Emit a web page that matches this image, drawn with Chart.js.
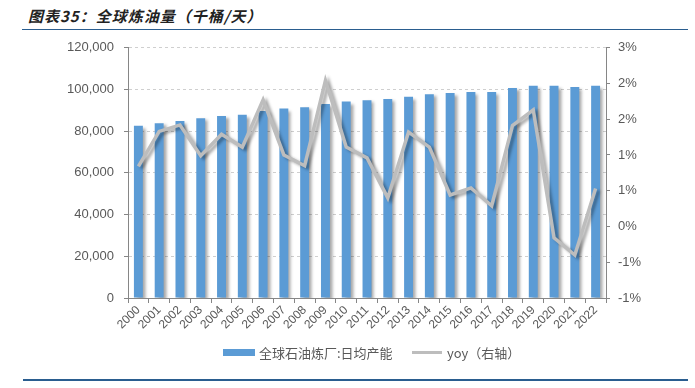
<!DOCTYPE html>
<html>
<head>
<meta charset="utf-8">
<script src="https://cdn.jsdelivr.net/npm/chart.js@4/dist/chart.umd.min.js"></script>
<style>
    body { margin: 0; background: #fff; }
    #wrap { position: relative; width: 695px; height: 388px; overflow: hidden; font-family: "Liberation Sans", "Noto Sans CJK SC", sans-serif; }
    #title { position: absolute; left: 28px; top: 5px; font-size: 15px; font-weight: bold; font-style: italic; color: #222; font-family: "Noto Sans CJK SC", sans-serif; letter-spacing: 1px; }
    #topline { position: absolute; left: 22px; right: 7px; top: 29px; height: 0; border-top: 1.5px solid #2a5d8f; }
    #bottomline { position: absolute; left: 23px; right: 7px; top: 379px; height: 0; border-top: 2px solid #2a5d8f; }
    #chartBox { position: absolute; left: 0; top: 0; width: 695px; height: 388px; }
    .legend { position: absolute; top: 343px; font-size: 13px; color: #595959; font-family: "Noto Sans CJK SC", sans-serif; display: flex; align-items: center; }
    .legend .box { display: inline-block; width: 32px; height: 7px; background: #5b9bd5; margin-right: 4px; }
    .legend .ln { display: inline-block; width: 30px; height: 3px; background: #bdbdbd; margin-right: 5px; }
</style>
</head>
<body>
<div id="wrap">
    <div id="title">图表35：全球炼油量（千桶/天）</div>
    <div id="topline"></div>
    <div id="chartBox"><canvas id="refineChart"></canvas></div>
    <div class="legend" style="left:223px;"><span class="box"></span>全球石油炼厂:日均产能</div>
    <div class="legend" style="left:412px;"><span class="ln"></span>yoy（右轴）</div>
    <div id="bottomline"></div>
</div>
<script>
// Datos
const years = ['2000', '2001', '2002', '2003', '2004', '2005', '2006', '2007', '2008', '2009', '2010', '2011',
    '2012', '2013', '2014', '2015', '2016', '2017', '2018', '2019', '2020', '2021', '2022'];
const capacity = [82600, 83800, 84900, 86200, 87300, 87800, 89700, 90800, 91500, 93000, 94200, 94800,
    95400, 96500, 97700, 98300, 98800, 98800, 100700, 101800, 101800, 101200, 101800];
const yoy = [0.84, 1.33, 1.42, 0.99, 1.29, 1.11, 1.77, 1.00, 0.85, 2.04, 1.11, 0.96,
    0.40, 1.32, 1.11, 0.44, 0.54, 0.29, 1.41, 1.63, -0.16, -0.40, 0.53];
const leftTicks = [0, 20000, 40000, 60000, 80000, 100000, 120000];

// Sombra para barras y línea
const shadowPlugin = {
    id: 'shadow',
    beforeDatasetDraw(chart) {
        const c = chart.ctx;
        c.save();
        c.shadowColor = 'rgba(0, 0, 0, 0.35)';
        c.shadowBlur = 3;
        c.shadowOffsetX = 3;
        c.shadowOffsetY = 2;
    },
    afterDatasetDraw(chart) {
        chart.ctx.restore();
    }
};

const tickFont = { family: '"Liberation Sans", sans-serif', size: 13 };

const ctx = document.getElementById('refineChart');
new Chart(ctx, {
    data: {
        labels: years,
        datasets: [
            {
                type: 'line',
                label: 'yoy（右轴）',
                data: yoy,
                yAxisID: 'y1',
                borderColor: '#bdbdbd',
                borderWidth: 3.5,
                pointRadius: 0,
                tension: 0,
                fill: false,
                order: 0
            },
            {
                type: 'bar',
                label: '全球石油炼厂:日均产能',
                data: capacity,
                yAxisID: 'y',
                backgroundColor: '#5b9bd5',
                barPercentage: 0.86,
                categoryPercentage: 0.5,
                order: 1
            }
        ]
    },
    options: {
        responsive: true,
        maintainAspectRatio: false,
        animation: false,
        layout: { padding: { top: 47.7, left: 0, right: 0, bottom: 0 } },
        plugins: {
            legend: { display: false },
            tooltip: { enabled: false }
        },
        scales: {
            x: {
                offset: true,
                grid: { display: true, drawOnChartArea: false, drawTicks: true, tickLength: 5, color: '#868686' },
                border: { color: '#868686' },
                ticks: { font: { family: '"Liberation Sans", sans-serif', size: 12 }, color: '#595959', maxRotation: 45, minRotation: 45, autoSkip: false, padding: 0 },
                afterFit(scale) { scale.height = 90; }
            },
            y: {
                position: 'left',
                min: 0,
                max: 120000,
                afterBuildTicks(scale) { scale.ticks = leftTicks.map(v => ({ value: v })); },
                grid: { color: '#cfcfcf', tickColor: '#868686', tickLength: 4 },
                border: { color: '#868686', dash: [3, 3] },
                ticks: {
                    font: tickFont,
                    color: '#595959',
                    padding: 10,
                    callback: v => v.toLocaleString('en-US')
                },
                afterFit(scale) { scale.width = 128; }
            },
            y1: {
                position: 'right',
                min: -1,
                max: 2.5,
                grid: { drawOnChartArea: false, color: '#868686', tickLength: 4 },
                border: { color: '#868686' },
                ticks: {
                    stepSize: 0.5,
                    font: tickFont,
                    color: '#595959',
                    padding: 8,
                    callback: v => (Math.sign(v) * Math.round(Math.abs(v))) + '%'
                },
                afterFit(scale) { scale.width = 89; }
            }
        }
    },
    plugins: [shadowPlugin]
});
</script>
</body>
</html>
